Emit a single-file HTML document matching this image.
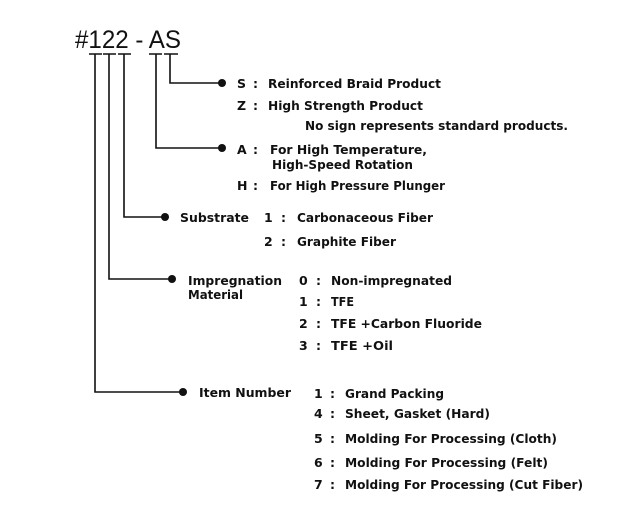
<!DOCTYPE html>
<html><head><meta charset="utf-8"><style>
html,body{margin:0;padding:0;background:#fff;width:630px;height:530px;overflow:hidden}
svg text{font-family:"DejaVu Sans","Liberation Sans",sans-serif;font-size:12.5px;font-weight:bold;fill:#111}
</style></head><body>
<svg width="630" height="530" viewBox="0 0 630 530" xmlns="http://www.w3.org/2000/svg">
<text x="75" y="48" style="font-size:25px;font-weight:normal;font-family:'Liberation Sans',sans-serif" textLength="106" lengthAdjust="spacingAndGlyphs">#122 - AS</text>
<g stroke="#111" stroke-width="1.6" fill="none">
<path d="M89 54H102M103 54H116M118 54H131M149 54H162M164 54H178"/>
<path d="M95 54V392H183"/>
<path d="M109 54V279H172"/>
<path d="M124 54V217H165"/>
<path d="M156 54V148H222"/>
<path d="M170 54V83H222"/>
</g>
<g fill="#111">
<circle cx="222" cy="83" r="4"/><circle cx="222" cy="148" r="4"/>
<circle cx="165" cy="217" r="4"/><circle cx="172" cy="279" r="4"/><circle cx="183" cy="392" r="4"/>
</g>
<g>
<text x="237" y="88">S</text><text x="253" y="88">:</text><text x="268" y="88" textLength="173" lengthAdjust="spacingAndGlyphs">Reinforced Braid Product</text>
<text x="237" y="110">Z</text><text x="253" y="110">:</text><text x="268" y="110" textLength="155" lengthAdjust="spacingAndGlyphs">High Strength Product</text>
<text x="305" y="130" textLength="263" lengthAdjust="spacingAndGlyphs">No sign represents standard products.</text>
<text x="237" y="154">A</text><text x="253" y="154">:</text><text x="270" y="154" textLength="157" lengthAdjust="spacingAndGlyphs">For High Temperature,</text>
<text x="272" y="169" textLength="141" lengthAdjust="spacingAndGlyphs">High-Speed Rotation</text>
<text x="237" y="190">H</text><text x="253" y="190">:</text><text x="270" y="190" textLength="175" lengthAdjust="spacingAndGlyphs">For High Pressure Plunger</text>

<text x="180" y="222" textLength="69" lengthAdjust="spacingAndGlyphs">Substrate</text>
<text x="264" y="222">1</text><text x="281" y="222">:</text><text x="297" y="222" textLength="136" lengthAdjust="spacingAndGlyphs">Carbonaceous Fiber</text>
<text x="264" y="246">2</text><text x="281" y="246">:</text><text x="297" y="246" textLength="99" lengthAdjust="spacingAndGlyphs">Graphite Fiber</text>

<text x="188" y="285" textLength="94" lengthAdjust="spacingAndGlyphs">Impregnation</text>
<text x="188" y="299" textLength="55" lengthAdjust="spacingAndGlyphs">Material</text>
<text x="299" y="285">0</text><text x="316" y="285">:</text><text x="331" y="285" textLength="121" lengthAdjust="spacingAndGlyphs">Non-impregnated</text>
<text x="299" y="306">1</text><text x="316" y="306">:</text><text x="331" y="306" textLength="23" lengthAdjust="spacingAndGlyphs">TFE</text>
<text x="299" y="328">2</text><text x="316" y="328">:</text><text x="331" y="328" textLength="151" lengthAdjust="spacingAndGlyphs">TFE +Carbon Fluoride</text>
<text x="299" y="350">3</text><text x="316" y="350">:</text><text x="331" y="350" textLength="62" lengthAdjust="spacingAndGlyphs">TFE +Oil</text>

<text x="199" y="397" textLength="92" lengthAdjust="spacingAndGlyphs">Item Number</text>
<text x="314" y="398">1</text><text x="330" y="398">:</text><text x="345" y="398" textLength="99" lengthAdjust="spacingAndGlyphs">Grand Packing</text>
<text x="314" y="418">4</text><text x="330" y="418">:</text><text x="345" y="418" textLength="145" lengthAdjust="spacingAndGlyphs">Sheet, Gasket (Hard)</text>
<text x="314" y="443">5</text><text x="330" y="443">:</text><text x="345" y="443" textLength="212" lengthAdjust="spacingAndGlyphs">Molding For Processing (Cloth)</text>
<text x="314" y="467">6</text><text x="330" y="467">:</text><text x="345" y="467" textLength="203" lengthAdjust="spacingAndGlyphs">Molding For Processing (Felt)</text>
<text x="314" y="489">7</text><text x="330" y="489">:</text><text x="345" y="489" textLength="238" lengthAdjust="spacingAndGlyphs">Molding For Processing (Cut Fiber)</text>
</g>
</svg>
</body></html>
